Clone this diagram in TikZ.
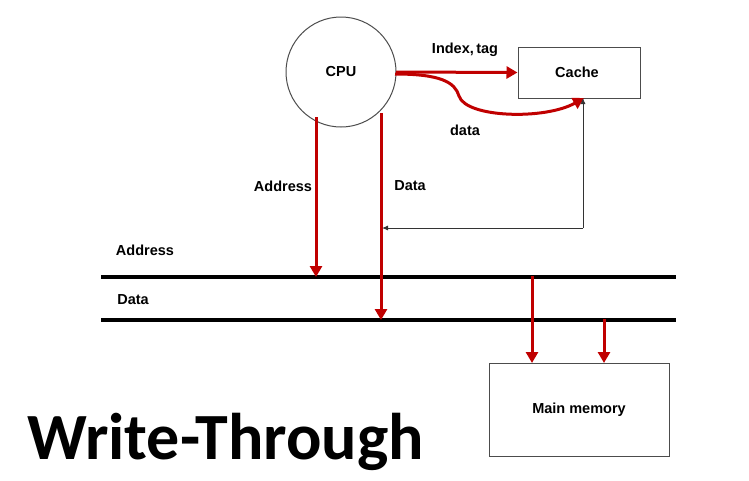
\documentclass[tikz,border=0pt]{standalone}
\usepackage{fontspec}
\setmainfont{Liberation Sans}
\newfontfamily\titlefont{Carlito}
\usetikzlibrary{arrows.meta}
\definecolor{arrred}{RGB}{192,0,0}
\begin{document}
\begin{tikzpicture}[x=1pt,y=-1pt,
  lbl/.style={font=\fontsize{14.5}{16}\selectfont\bfseries, inner sep=0pt},
  redarrow/.style={draw=arrred, line width=3pt, -{Triangle[length=11pt,width=12pt]}},
  thinarrow/.style={draw=black!80, line width=0.9pt, -{Latex[length=6pt,width=5pt]}},
  bus/.style={draw=black, line width=3.2pt},
  boxnode/.style={draw=black!70, line width=1pt, rectangle, inner sep=0pt}]
\useasboundingbox (0,0) rectangle (749,480);
% CPU
\node[draw=black!70, line width=1pt, circle, minimum size=110pt, inner sep=0pt] (cpu) at (341,72) {};
\node[lbl] (cputxt) at (341,72) {CPU};
% Cache
\node[boxnode, minimum width=122pt, minimum height=51pt] (cache) at (579,72.5) {};
\node[lbl] (cachetxt) at (577,72) {Cache};
% Main memory
\node[boxnode, minimum width=180pt, minimum height=93pt] (mem) at (579,409.5) {};
\node[lbl] (memtxt) at (579,410) {Main memory};
% Bus lines
\coordinate (abL) at (101,277);
\coordinate (abR) at (676,277);
\coordinate (dbL) at (101,320);
\coordinate (dbR) at (676,320);
\draw[bus] (abL) -- (abR);
\draw[bus] (dbL) -- (dbR);
\node[lbl] (busA) at (145,250) {Address};
\node[lbl] (busD) at (133,300) {Data};
% Index,tag
\coordinate (cpuR) at (396,72);
\draw[redarrow] (cpuR) -- (cache.west);
\node[lbl] (idx) at (465,50) {Index,\,tag};
% data curve
\coordinate (cpuR2) at (395,74);
\coordinate (cacheB) at (584,98);
\draw[redarrow] (cpuR2) .. controls (440,74) and (455,82) .. (459,96)
   .. controls (466,118) and (545,120) .. (cacheB);
\node[lbl] (dlab) at (465,130) {data};
% CPU address/data
\coordinate (cpuA) at (316,117);
\coordinate (busAp) at (316,277);
\coordinate (cpuD) at (381,113);
\coordinate (busDp) at (381,320);
\draw[redarrow] (cpuA) -- (busAp);
\draw[redarrow] (cpuD) -- (busDp);
\node[lbl] (alab) at (283,186) {Address};
\node[lbl] (dlab2) at (410,186) {Data};
% thin return arrow
\coordinate (cacheB2) at (583,98);
\coordinate (corner) at (583,228);
\coordinate (dataJ) at (382,228);
\draw[thinarrow] (corner) -- (cacheB2);
\draw[thinarrow] (corner) -- (dataJ);
% to memory
\coordinate (m1) at (532,276);
\coordinate (m2) at (604,319);
\draw[redarrow] (m1) -- (532,363);
\draw[redarrow] (m2) -- (604,363);
% title
\node[font=\titlefont\bfseries\fontsize{66}{74}\selectfont, inner sep=0pt, anchor=west] (title) at (27,442) {Write-Through};
\end{tikzpicture}
\end{document}
